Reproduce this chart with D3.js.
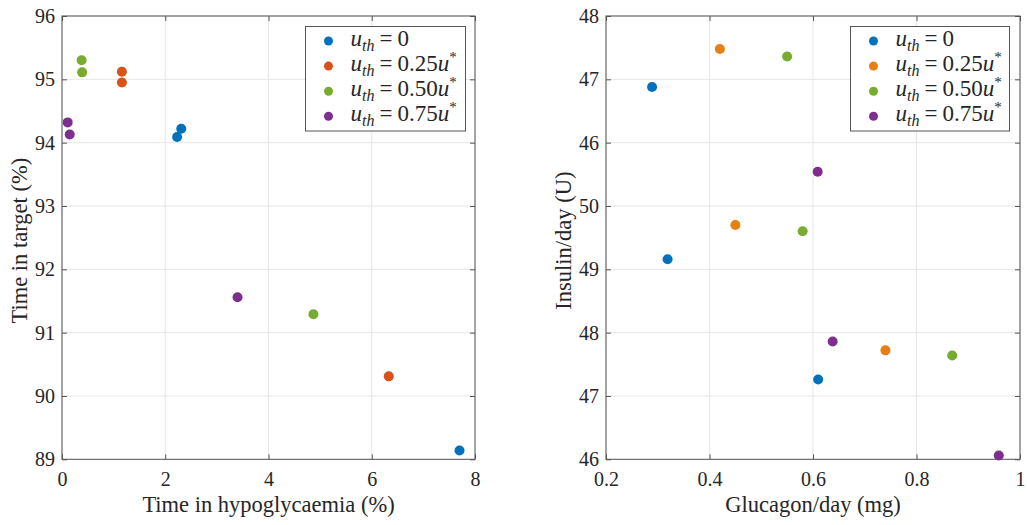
<!DOCTYPE html>
<html><head><meta charset="utf-8">
<script src="https://cdn.jsdelivr.net/npm/d3@7"></script>
<style>
body{margin:0;background:#fff;}
svg{display:block;}
</style></head>
<body>
<svg id="c" width="1027" height="525"></svg>
<script>
// ---- data ----
const legendCoeffs = ["0", "0.25", "0.50", "0.75"];
const seriesColorsLeft = ["#0072BD", "#D95319", "#77AC30", "#7E2F8E"];
const seriesColorsRight = ["#0072BD", "#E67E12", "#77AC30", "#7E2F8E"];

// left panel: time in hypoglycaemia (%) vs time in target (%)
const hypo0 = [2.23, 2.31, 7.70];
const target0 = [94.09, 94.22, 89.14];
const hypo25 = [1.16, 1.16, 6.33];
const target25 = [95.12, 94.95, 90.31];
const hypo50 = [0.38, 0.39, 4.87];
const target50 = [95.30, 95.11, 91.29];
const hypo75 = [0.11, 0.15, 3.40];
const target75 = [94.32, 94.13, 91.56];

// right panel: glucagon/day (mg) vs insulin/day (U), y in axis units (broken axis)
const glucagon0 = [0.289, 0.319, 0.610];
const insulin0 = [51.88, 49.16, 47.26];
const glucagon25 = [0.42, 0.45, 0.74];
const insulin25 = [52.48, 49.70, 47.72];
const glucagon50 = [0.55, 0.58, 0.869];
const insulin50 = [52.36, 49.60, 47.64];
const glucagon75 = [0.609, 0.638, 0.959];
const insulin75 = [50.54, 47.86, 46.06];

const leftXTicks = [0, 2, 4, 6, 8];
const leftYTicks = [89, 90, 91, 92, 93, 94, 95, 96];
const rightXTicks = [0.2, 0.4, 0.6, 0.8, 1];
const rightXTickLabels = ["0.2", "0.4", "0.6", "0.8", "1"];
const rightYTicks = [46, 47, 48, 49, 50, 51, 52, 53];
const rightYTickLabels = ["46", "47", "48", "49", "50", "46", "47", "48"];

const FONT = '"Liberation Serif"';
const INK = "#262626";
const svg = d3.select("#c");

function panel(opt){
  const g = svg.append("g");
  const x = d3.scaleLinear().domain(opt.xDomain).range([opt.x0, opt.x1]);
  const y = d3.scaleLinear().domain(opt.yDomain).range([opt.y1, opt.y0]);
  // grid
  g.append("g").selectAll("line").data(opt.xTicks).join("line")
    .attr("x1", d=>x(d)).attr("x2", d=>x(d)).attr("y1", opt.y0).attr("y2", opt.y1)
    .attr("stroke", "#e6e6e6").attr("stroke-width", 1);
  g.append("g").selectAll("line").data(opt.yTicks).join("line")
    .attr("y1", d=>y(d)).attr("y2", d=>y(d)).attr("x1", opt.x0).attr("x2", opt.x1)
    .attr("stroke", "#e6e6e6").attr("stroke-width", 1);
  // axes
  const tk = 5;
  const xb = g.append("g").attr("transform", `translate(0,${opt.y1})`)
    .call(d3.axisBottom(x).tickValues(opt.xTicks).tickSizeInner(-tk).tickSizeOuter(0).tickPadding(13)
      .tickFormat((d,i)=>opt.xLabels ? opt.xLabels[i] : d3.format("")(d)));
  const xt = g.append("g").attr("transform", `translate(0,${opt.y0})`)
    .call(d3.axisTop(x).tickValues(opt.xTicks).tickSizeInner(-tk).tickSizeOuter(0).tickFormat(""));
  const yl = g.append("g").attr("transform", `translate(${opt.x0},0)`)
    .call(d3.axisLeft(y).tickValues(opt.yTicks).tickSizeInner(-tk).tickSizeOuter(0).tickPadding(7)
      .tickFormat((d,i)=>opt.yLabels ? opt.yLabels[i] : d3.format("")(d)));
  const yr = g.append("g").attr("transform", `translate(${opt.x1},0)`)
    .call(d3.axisRight(y).tickValues(opt.yTicks).tickSizeInner(-tk).tickSizeOuter(0).tickFormat(""));
  [xb, xt, yl, yr].forEach(a=>{
    a.attr("font-family", FONT).attr("font-size", 20);
    a.select(".domain").remove();
    a.selectAll("line").attr("stroke", "#555");
    a.selectAll("text").attr("font-family", FONT).attr("font-size", 20).attr("fill", INK);
  });
  xb.selectAll("text").attr("dy", "0.71em");
  g.append("rect").attr("x", opt.x0).attr("y", opt.y0).attr("width", opt.x1-opt.x0).attr("height", opt.y1-opt.y0)
    .attr("fill", "none").attr("stroke", "#555").attr("stroke-width", 1);
  // points
  opt.series.forEach((s, k)=>{
    g.append("g").selectAll("circle").data(s.xs.map((v,i)=>[v, s.ys[i]])).join("circle")
      .attr("cx", d=>x(d[0])).attr("cy", d=>y(d[1])).attr("r", 5).attr("fill", opt.colors[k]);
  });
  // axis labels
  g.append("text").attr("x", (opt.x0+opt.x1)/2).attr("y", 512).attr("text-anchor", "middle")
    .attr("font-family", FONT).attr("font-size", 22.5).attr("fill", INK).text(opt.xTitle);
  g.append("text").attr("transform", `translate(${opt.yTitleX},${(opt.y0+opt.y1)/2 + 3}) rotate(-90)`)
    .attr("text-anchor", "middle").attr("font-family", FONT).attr("font-size", 22.5).attr("fill", INK).text(opt.yTitle);
  // legend
  const L = opt.legend;
  g.append("rect").attr("x", L.x).attr("y", L.y).attr("width", L.w).attr("height", L.h)
    .attr("fill", "#fff").attr("stroke", "#555").attr("stroke-width", 1);
  legendCoeffs.forEach((c, i)=>{
    const cy = L.y + 14.5 + i*25.1;
    g.append("circle").attr("cx", L.x+23).attr("cy", cy).attr("r", 4.5).attr("fill", opt.colors[i]);
    const t = g.append("text").attr("x", L.x+45).attr("y", cy+5).attr("font-family", FONT)
      .attr("font-size", 23).attr("fill", INK);
    t.append("tspan").attr("font-style", "italic").text("u");
    t.append("tspan").attr("font-style", "italic").attr("font-size", 16).attr("dy", 5).text("th");
    t.append("tspan").attr("dy", -5).attr("dx", 5).text("=");
    t.append("tspan").attr("dx", 5).text(c);
    if (c !== "0") {
      t.append("tspan").attr("font-style", "italic").text("u");
      t.append("tspan").attr("font-size", 15).attr("dy", -9).text("*");
    }
  });
}

panel({
  x0: 62, x1: 475, y0: 16, y1: 459.3,
  xDomain: [0, 8], yDomain: [89, 96],
  xTicks: leftXTicks, yTicks: leftYTicks,
  colors: seriesColorsLeft,
  series: [
    {xs: hypo0, ys: target0}, {xs: hypo25, ys: target25},
    {xs: hypo50, ys: target50}, {xs: hypo75, ys: target75}
  ],
  xTitle: "Time in hypoglycaemia (%)", yTitle: "Time in target (%)", yTitleX: 27,
  legend: {x: 305.5, y: 26.5, w: 160, h: 104.5}
});

panel({
  x0: 606, x1: 1020, y0: 16, y1: 459.3,
  xDomain: [0.2, 1], yDomain: [46, 53],
  xTicks: rightXTicks, xLabels: rightXTickLabels,
  yTicks: rightYTicks, yLabels: rightYTickLabels,
  colors: seriesColorsRight,
  series: [
    {xs: glucagon0, ys: insulin0}, {xs: glucagon25, ys: insulin25},
    {xs: glucagon50, ys: insulin50}, {xs: glucagon75, ys: insulin75}
  ],
  xTitle: "Glucagon/day (mg)", yTitle: "Insulin/day (U)", yTitleX: 571,
  legend: {x: 850.5, y: 26.5, w: 159, h: 104.5}
});
</script>
</body></html>
